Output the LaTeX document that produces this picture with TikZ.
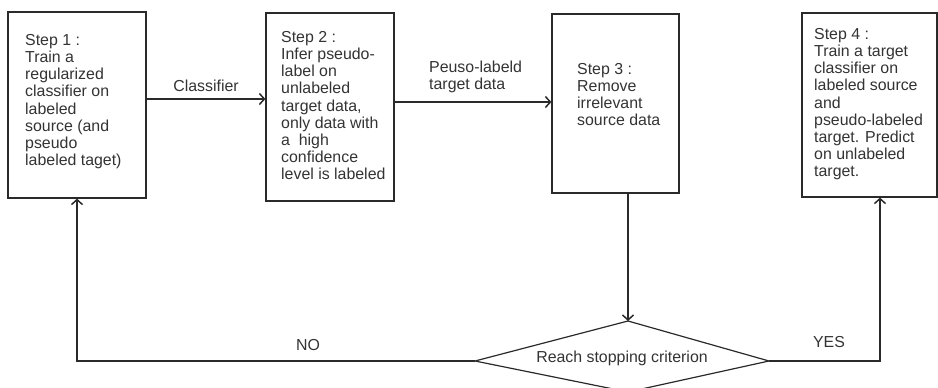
\documentclass[tikz,border=0pt]{standalone}
\usepackage{fontspec}
\setmainfont{Liberation Sans}
\usetikzlibrary{arrows.meta}
\definecolor{ln}{HTML}{2A2A2A}
\definecolor{tx}{HTML}{333333}
\begin{document}
\begin{tikzpicture}[x=1pt,y=-1pt,
  box/.style={draw=ln,line width=1.2pt,inner sep=0pt},
  txt/.style={text=tx,font=\fontsize{15.9}{17.2}\selectfont,align=left,inner sep=0pt,anchor=north west},
  lbl/.style={text=tx,font=\fontsize{15.9}{17.2}\selectfont,inner sep=0pt},
  arr/.style={draw=ln,line width=1.2pt,-{Straight Barb[length=5pt,width=11pt,line width=1.5pt]}},
  con/.style={draw=ln,line width=1.2pt}]
\useasboundingbox (0,0) rectangle (938,388);
% boxes
\node[box,minimum width=138pt,minimum height=186pt] (b1) at (77,105) {};
\node[box,minimum width=128pt,minimum height=188pt] (b2) at (330,107) {};
\node[box,minimum width=127pt,minimum height=179pt] (b3) at (615.5,103.5) {};
\node[box,minimum width=135pt,minimum height=184pt] (b4) at (869.5,105) {};
% texts
\node[txt] (t1) at (25,34) {Step 1 :\\Train a\\regularized\\classifier on\\labeled\\source (and\\pseudo\\labeled taget)};
\node[txt] (t2) at (281,31) {Step 2 :\\Infer pseudo-\\label on\\unlabeled\\target data,\\only data with\\a\ \ high\\confidence\\level is labeled};
\node[txt] (t3) at (577,63) {Step 3 :\\Remove\\irrelevant\\source data};
\node[txt] (t4) at (814,28) {Step 4 :\\Train a target\\classifier on\\labeled source\\and\\pseudo-labeled\\target. Predict\\on unlabeled\\target.};
% diamond
\coordinate (dt) at (628,321);
\coordinate (dl) at (475,361);
\coordinate (dr) at (769,361);
\coordinate (db) at (628,392);
\draw[con] (dt) -- (dr) -- (db) -- (dl) -- cycle;
\node[lbl,anchor=base] (dtext) at (622,362) {Reach stopping criterion};
% connectors
\draw[arr] ([yshift=6pt]b1.east) -- ([yshift=8pt]b2.west) node[lbl,midway,anchor=base,yshift=8pt] (lc) {Classifier};
\draw[arr] ([yshift=5pt]b2.east) -- ([yshift=1.5pt]b3.west);
\node[txt] (lp) at (429,61) {Peuso-labeld\\target data};
\draw[arr] (b3.south -| dt) -- (dt);
\draw[arr] (dl) -| (b1.south);
\draw[arr] (dr) -| ([xshift=10.5pt]b4.south);
\node[lbl,anchor=base] (no) at (308,350) {NO};
\node[lbl,anchor=base] (yes) at (829,347) {YES};
\end{tikzpicture}
\end{document}
